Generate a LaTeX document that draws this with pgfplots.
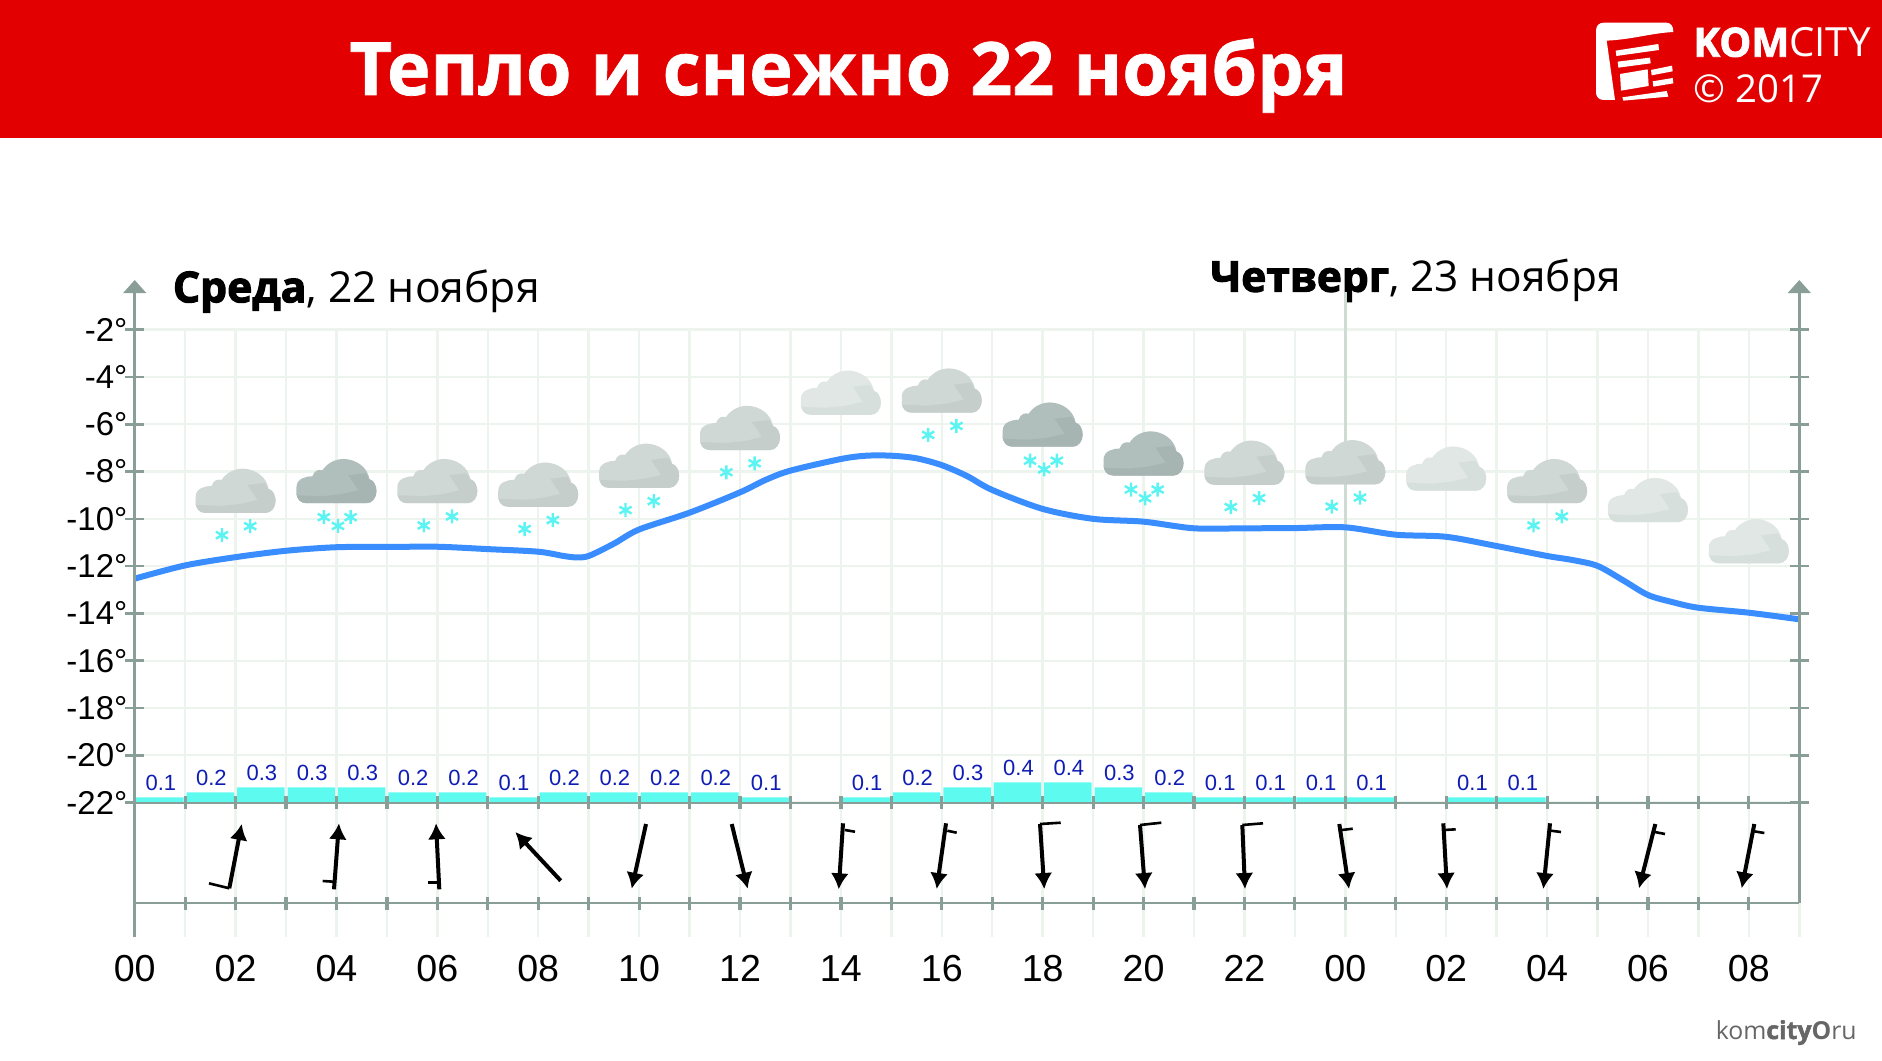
\documentclass[border=0pt]{standalone}
\usepackage{fontspec}
\setmainfont{Liberation Sans}
\newfontfamily\headf{Open Sans}
\usepackage{pgfplots}
\pgfplotsset{compat=1.18}
\usetikzlibrary{arrows.meta}

\definecolor{banner}{HTML}{E30000}
\definecolor{framec}{HTML}{889E97}
\definecolor{gridc}{HTML}{EDF3ED}
\definecolor{midline}{HTML}{CFDCD3}
\definecolor{tempc}{HTML}{3A8DFF}
\definecolor{barc}{HTML}{5DFBEF}
\definecolor{snowc}{HTML}{5CF4F2}
\definecolor{valc}{HTML}{0F1DB5}
\definecolor{footc}{HTML}{666666}
\definecolor{cloudL}{HTML}{E0E7E5}
\definecolor{cloudLd}{HTML}{D7DFDC}
\definecolor{cloudM}{HTML}{CFD8D5}
\definecolor{cloudMd}{HTML}{C5CECB}
\definecolor{cloudD}{HTML}{B0BEBC}
\definecolor{cloudDd}{HTML}{A6B4B2}

% cloud icon, origin at the middle of its flat bottom, units are image pixels
\newcommand\drawcloud[2]{%
  \begin{scope}[x=.5pt,y=.5pt,xshift=1pt]
    \fill[#1,draw=none] (-30,0) -- (30,0) .. controls (36,0) and (40,6) .. (40,12)
      .. controls (40,18) and (37,23) .. (33,24)
      .. controls (31,36) and (20,44) .. (7,44.3)
      .. controls (-3,44) and (-10,39) .. (-14,33)
      .. controls (-18,34) and (-22,33) .. (-24,27)
      .. controls (-30,27) and (-40,25) .. (-40,16) -- (-40,11)
      .. controls (-40,4) and (-36,0) .. (-30,0) -- cycle;
    \fill[#2,draw=none] (-40,11) .. controls (-40,4) and (-36,0) .. (-30,0) -- (30,0)
      .. controls (36,0) and (40,6) .. (40,12)
      .. controls (40,18) and (37,23) .. (33,24) -- (29,30) -- (12,28) -- (22,13)
      -- (5,9) -- (-15,7) -- (-40,8) -- cycle;
  \end{scope}}
\pgfdeclareplotmark{cloudlight}{\drawcloud{cloudL}{cloudLd}}
\pgfdeclareplotmark{cloudmid}{\drawcloud{cloudM}{cloudMd}}
\pgfdeclareplotmark{clouddark}{\drawcloud{cloudD}{cloudDd}}

\pgfplotsset{
  plotbox/.style={
    scale only axis, width=832.3pt, height=303.7pt,
    at={(67.35pt,61.45pt)}, anchor=south west,
    xmin=0, xmax=33, clip=false},
}

\begin{document}
\begin{tikzpicture}
\useasboundingbox (0,0) rectangle (941pt,530pt);

% banner and headings, coordinates in image pixels
\begin{scope}[x=.5pt,y=-.5pt,yshift=530pt]
  \fill[banner] (0,0) rectangle (1882,138);
  \node[anchor=base,text=white,inner sep=0pt] at (848.5,95)
    {\headf\bfseries\addfontfeature{FakeBold=1}\fontsize{36.8}{37}\selectfont Тепло и снежно 22 ноября};
  \begin{scope}[shift={(1500,0)},scale=1/3]
    \fill[white] (288,92) .. controls (288,76) and (298,68) .. (312,68) -- (498,68)
      .. controls (512,68) and (520,78) .. (520,96)
      .. controls (450,100) and (400,118) .. (320,122) -- (345,300) -- (312,300)
      .. controls (298,300) and (288,292) .. (288,278) -- cycle;
    \fill[white] (347,152) -- (475,132) -- (477,150) -- (349,168) -- cycle;
    \fill[white] (353,185) -- (450,173) -- (452,190) -- (355,203) -- cycle;
    \fill[white] (453,210) -- (516,197) -- (518,214) -- (455,226) -- cycle;
    \fill[white] (360,222) -- (443,208) -- (446,258) -- (363,272) -- cycle;
    \fill[white] (458,244) -- (518,234) -- (520,250) -- (460,260) -- cycle;
    \fill[white] (367,292) -- (500,273) -- (505,290) -- (370,302) -- cycle;
  \end{scope}
  \node[anchor=base west,text=white,inner sep=0pt] at (1693,56.7)
    {\headf\fontsize{20.1}{20}\selectfont{\bfseries\addfontfeature{FakeBold=2}KOM}CITY};
  \node[anchor=base west,text=white,inner sep=0pt] at (1693,102.7)
    {\headf\fontsize{19.2}{20}\selectfont © 2017};
  \node[anchor=base west,inner sep=0pt] at (172.5,302.3)
    {\headf\fontsize{21.35}{22}\selectfont{\bfseries\addfontfeature{FakeBold=2.5}Среда}, 22 ноября};
  \node[anchor=base west,inner sep=0pt] at (1210,291.7)
    {\headf\fontsize{21.2}{22}\selectfont{\bfseries\addfontfeature{FakeBold=2.5}Четверг}, 23 ноября};
  \node[anchor=base east,inner sep=0pt,text=footc] at (1857,1039)
    {\headf\fontsize{12.4}{13}\selectfont kom{\bfseries\addfontfeature{FakeBold=2}city}{\bfseries O}ru};
\end{scope}

% temperature, clouds, snow
\begin{axis}[plotbox,
    ymin=-27.69, ymax=-2,
    axis line style={draw=none},
    xtick={0,1,...,33},
    xticklabels={00,,02,,04,,06,,08,,10,,12,,14,,16,,18,,20,,22,,00,,02,,04,,06,,08,,},
    ytick={-22,-20,-18,-16,-14,-12,-10,-8,-6,-4,-2},
    yticklabels={-22°,-20°,-18°,-16°,-14°,-12°,-10°,-8°,-6°,-4°,-2°},
    grid=major, grid style={gridc,line width=1.2pt},
    x tick style={draw=none},
    y tick style={framec,line width=1.3pt},
    tick align=center, major tick length=9.5pt,
    ytick pos=both, yticklabel pos=left,
    x tick label style={font=\fontsize{18.8}{19}\selectfont,yshift=-1pt},
    y tick label style={font=\fontsize{16.5}{16.5}\selectfont,xshift=4.6pt},
  ]
\addplot[midline,line width=1.2pt] coordinates {(24,-22) (24,-0.4)};

\addplot[tempc,line width=3pt,smooth,tension=0.5] table {
h t
0 -12.53
1 -11.97
2 -11.62
3 -11.35
4 -11.20
5 -11.19
6 -11.18
7 -11.28
8 -11.39
8.5 -11.57
8.75 -11.63
9 -11.57
9.5 -11.05
10 -10.45
11 -9.74
12 -8.88
12.5 -8.36
13 -7.96
14 -7.47
14.5 -7.33
15 -7.33
15.5 -7.44
16 -7.73
16.5 -8.19
17 -8.78
18 -9.58
19 -10.00
20 -10.12
21 -10.40
22 -10.40
23 -10.39
24 -10.36
25 -10.67
26 -10.76
27 -11.15
28 -11.57
28.5 -11.74
29 -11.99
29.5 -12.59
30 -13.22
30.5 -13.53
31 -13.76
32 -13.97
33 -14.25
};

\addplot[only marks,mark=cloudlight] coordinates {
(14,-5.60) (26,-8.81) (30,-10.14) (32,-11.88)};
\addplot[only marks,mark=cloudmid] coordinates {
(2,-9.75) (6,-9.34) (8,-9.49) (10,-8.69) (12,-7.09) (16,-5.51) (22,-8.56) (24,-8.54) (28,-9.34)};
\addplot[only marks,mark=clouddark] coordinates {
(4,-9.34) (18,-6.95) (20,-8.17)};

\addplot[only marks,mark=asterisk,mark size=3.5pt,snowc,line width=1.2pt] coordinates {
(1.73,-10.69) (2.29,-10.31) (5.73,-10.28) (6.29,-9.90) (7.73,-10.43) (8.29,-10.05)
(9.73,-9.63) (10.29,-9.25) (11.73,-8.03) (12.29,-7.65) (15.73,-6.45) (16.29,-6.07)
(21.73,-9.50) (22.29,-9.12) (23.73,-9.48) (24.29,-9.10) (27.73,-10.28) (28.29,-9.90)
(3.75,-9.93) (4.03,-10.30) (4.28,-9.93) (17.75,-7.54) (18.03,-7.91) (18.28,-7.54)
(19.75,-8.76) (20.03,-9.13) (20.28,-8.76)};
\end{axis}

% precipitation, mm per bar; zero sits on the -22 line
\begin{axis}[plotbox,hide axis,
    ymin=-2.692, ymax=9.456,
    ybar, bar width=23.75pt, bar shift=0pt,
    /pgf/number format/assume math mode=true,
    nodes near coords,
    every node near coord/.append style={
      text=valc,font=\fontsize{11}{11}\selectfont,xshift=.5pt,
      /pgf/number format/fixed,/pgf/number format/fixed zerofill,/pgf/number format/precision=1},
  ]
\addplot[draw=none,fill=barc] coordinates {
(0.5,0.1) (1.5,0.2) (2.5,0.3) (3.5,0.3) (4.5,0.3) (5.5,0.2) (6.5,0.2) (7.5,0.1)
(8.5,0.2) (9.5,0.2) (10.5,0.2) (11.5,0.2) (12.5,0.1) (14.5,0.1) (15.5,0.2) (16.5,0.3)
(17.5,0.4) (18.5,0.4) (19.5,0.3) (20.5,0.2) (21.5,0.1) (22.5,0.1) (23.5,0.1) (24.5,0.1)
(26.5,0.1) (27.5,0.1)};
\end{axis}

% frame lines on top of the bars
\begin{axis}[plotbox,hide axis,ymin=-27.69,ymax=-2]
\addplot[framec,line width=1.3pt,-{Triangle[length=6.5pt,width=11.3pt]}] coordinates {(0,-27.69) (0,0.1)};
\addplot[framec,line width=1.3pt,-{Triangle[length=6.5pt,width=11.3pt]}] coordinates {(33,-26.25) (33,0.1)};
\addplot[framec,line width=1pt] coordinates {(0,-22) (33,-22)};
\addplot[framec,line width=1pt] coordinates {(0,-26.25) (33,-26.25)};
\addplot[only marks,mark=|,mark size=3.25pt,framec,line width=1.6pt] coordinates {
(1,-22) (2,-22) (3,-22) (4,-22) (5,-22) (6,-22) (7,-22) (8,-22) (9,-22) (10,-22) (11,-22)
(12,-22) (13,-22) (14,-22) (15,-22) (16,-22) (17,-22) (18,-22) (19,-22) (20,-22) (21,-22)
(22,-22) (23,-22) (24,-22) (25,-22) (26,-22) (27,-22) (28,-22) (29,-22) (30,-22) (31,-22) (32,-22)
(1,-26.25) (2,-26.25) (3,-26.25) (4,-26.25) (5,-26.25) (6,-26.25) (7,-26.25) (8,-26.25) (9,-26.25)
(10,-26.25) (11,-26.25) (12,-26.25) (13,-26.25) (14,-26.25) (15,-26.25) (16,-26.25) (17,-26.25)
(18,-26.25) (19,-26.25) (20,-26.25) (21,-26.25) (22,-26.25) (23,-26.25) (24,-26.25) (25,-26.25)
(26,-26.25) (27,-26.25) (28,-26.25) (29,-26.25) (30,-26.25) (31,-26.25) (32,-26.25)};
\end{axis}

% wind arrows and barbs, read in image pixels
\begin{axis}[scale only axis,width=941pt,height=530pt,at={(0,0)},anchor=south west,
    hide axis,xmin=0,xmax=1882,ymin=0,ymax=1060,y dir=reverse]
\addplot[black,line width=2pt,-{Latex[length=8pt,width=9pt]},
    quiver={u=\thisrow{u},v=\thisrow{v}}] table {
x y u v
229.3 888.3 12.4 -64.3
334 889.3 5 -66
439.3 889.3 -3.3 -66
560.7 880.7 -45.4 -48.7
646 824 -14.3 64.7
731.7 824 16 64.7
843 823.3 -4.3 66
946 823.3 -9.3 65.7
1040 824 4.3 65
1140 825 5 64
1242.3 825 2.7 64
1339.3 824 9.7 65
1443.3 823.3 3.7 65.7
1550 823.3 -6.7 65.7
1655.3 824 -16.3 64.3
1754.3 824 -12.6 64.3
};
\addplot[black,line width=1.3pt,quiver={u=\thisrow{u},v=\thisrow{v}}] table {
x y u v
229.3 888.3 -20.3 -5
334 881.7 -11.3 -0.7
439.3 882.7 -11.6 0
845 830 10 1.7
947.3 830.7 9.4 2
1040 824 20.7 -1.3
1140 825 21.3 -2.3
1242.3 825 20.7 -1.7
1341.7 830 11 -1.3
1444.3 830 11.4 -0.7
1551 830.7 10 1.3
1653.3 831.7 11.7 2.3
1752.3 831 12 2
};
\end{axis}
\end{tikzpicture}
\end{document}
